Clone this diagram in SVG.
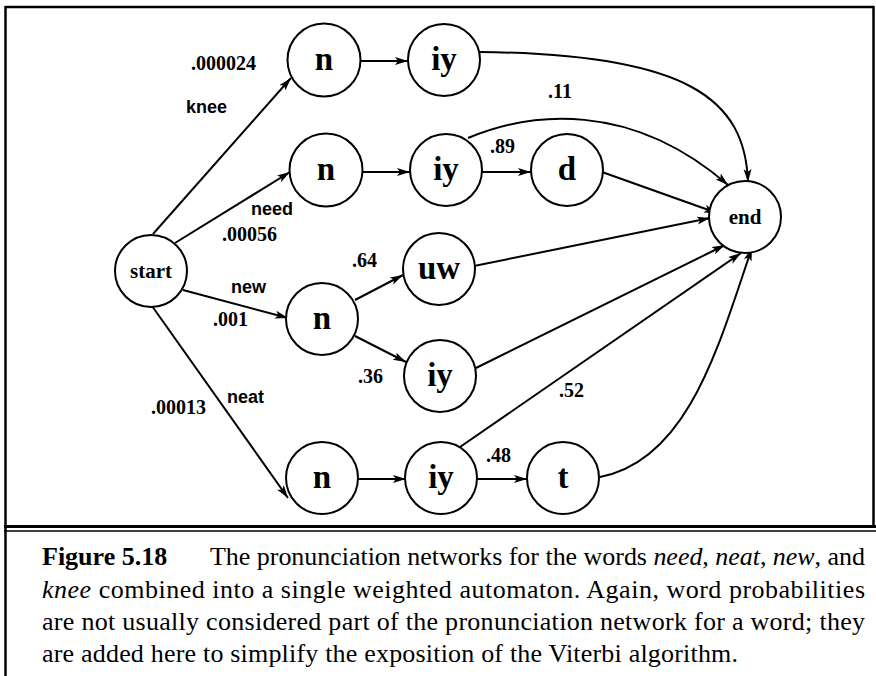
<svg xmlns="http://www.w3.org/2000/svg" width="876" height="676" viewBox="0 0 876 676">
<style>
.node circle{fill:#fff;stroke:#000;stroke-width:2}
.lbl{font-family:"Liberation Serif","Times New Roman",serif;font-weight:bold;fill:#000;text-anchor:middle}
.big{font-size:33px}
.sm{font-size:21px}
.num{font-family:"Liberation Serif","Times New Roman",serif;font-weight:bold;font-size:20px;fill:#000}
.word{font-family:"Liberation Sans",Arial,sans-serif;font-weight:bold;font-size:18px;fill:#000}
.edge{fill:none;stroke:#000;stroke-width:2;marker-end:url(#ah)}
.cap{font-family:"Liberation Serif","Times New Roman",serif;font-size:26px;fill:#000}
</style>
<defs>
<marker id="ah" markerUnits="userSpaceOnUse" markerWidth="14" markerHeight="10" refX="13" refY="4" orient="auto">
<path d="M0,0 L13,4 L0,8 L3,4 z" fill="#000"/>
</marker>
</defs>
<rect width="876" height="676" fill="#fff"/>
<g id="frame" stroke="#000" fill="none">
<line x1="5.5" y1="7" x2="874" y2="7" stroke-width="2.5"/>
<line x1="5.5" y1="6" x2="5.5" y2="676" stroke-width="2.5"/>
<line x1="873.5" y1="6" x2="873.5" y2="527" stroke-width="2.5"/>
<line x1="4" y1="526.5" x2="876" y2="526.5" stroke-width="3"/>
<line x1="4" y1="531" x2="876" y2="531" stroke-width="1.6"/>
</g>
<g id="connectors">
<line class="edge" x1="153" y1="234" x2="291" y2="78"/>
<line class="edge" x1="175" y1="243" x2="290" y2="172"/>
<line class="edge" x1="183" y1="290" x2="288" y2="318"/>
<line class="edge" x1="152" y1="306" x2="288" y2="498"/>
<line class="edge" x1="360" y1="61" x2="408" y2="61"/>
<line class="edge" x1="362" y1="172" x2="410" y2="172"/>
<line class="edge" x1="482" y1="172" x2="531" y2="172"/>
<line class="edge" x1="355" y1="300" x2="403" y2="275"/>
<line class="edge" x1="355" y1="336" x2="406" y2="362"/>
<line class="edge" x1="358" y1="479" x2="406" y2="479"/>
<line class="edge" x1="477" y1="479" x2="527" y2="479"/>
<path class="edge" d="M480,52 C690,54 745,100 748,182"/>
<path class="edge" d="M468,138 C530,112 630,100 728,185"/>
<line class="edge" x1="602" y1="172" x2="717" y2="213"/>
<line class="edge" x1="474" y1="266" x2="710" y2="218"/>
<line class="edge" x1="476" y1="368" x2="725" y2="245"/>
<line class="edge" x1="460" y1="447" x2="741" y2="253"/>
<path class="edge" d="M600,477 C690,460 720,340 752,248"/>
</g>
<g id="start" class="node"><circle cx="151" cy="271" r="36"/><text class="lbl sm" x="151" y="278">start</text></g>
<g id="n1" class="node"><circle cx="324" cy="60" r="36.5"/><text class="lbl big" x="324" y="70">n</text></g>
<g id="iy1" class="node"><circle cx="444" cy="60" r="36"/><text class="lbl big" x="444" y="70">iy</text></g>
<g id="n2" class="node"><circle cx="326" cy="170" r="36.5"/><text class="lbl big" x="326" y="180">n</text></g>
<g id="iy2" class="node"><circle cx="446" cy="170" r="36"/><text class="lbl big" x="446" y="180">iy</text></g>
<g id="d" class="node"><circle cx="567" cy="170" r="36"/><text class="lbl big" x="567" y="180">d</text></g>
<g id="end" class="node"><circle cx="745" cy="217" r="36"/><text class="lbl sm" x="745" y="224">end</text></g>
<g id="n3" class="node"><circle cx="322" cy="319" r="36"/><text class="lbl big" x="322" y="329">n</text></g>
<g id="uw" class="node"><circle cx="439" cy="269" r="36"/><text class="lbl big" x="439" y="279">uw</text></g>
<g id="iy3" class="node"><circle cx="440" cy="376" r="36"/><text class="lbl big" x="440" y="386">iy</text></g>
<g id="n4" class="node"><circle cx="322" cy="478" r="36"/><text class="lbl big" x="322" y="488">n</text></g>
<g id="iy4" class="node"><circle cx="441" cy="478" r="36"/><text class="lbl big" x="441" y="488">iy</text></g>
<g id="t" class="node"><circle cx="563" cy="478" r="36"/><text class="lbl big" x="563" y="488">t</text></g>
<g id="edge-labels">
<text class="num" x="191" y="70">.000024</text>
<text class="word" x="186" y="113">knee</text>
<text class="word" x="251" y="215">need</text>
<text class="num" x="222" y="241">.00056</text>
<text class="word" x="231" y="293">new</text>
<text class="num" x="213" y="326">.001</text>
<text class="num" x="352" y="267">.64</text>
<text class="num" x="358" y="383">.36</text>
<text class="word" x="227" y="403">neat</text>
<text class="num" x="151" y="414">.00013</text>
<text class="num" x="548" y="98">.11</text>
<text class="num" x="490" y="153">.89</text>
<text class="num" x="559" y="397">.52</text>
<text class="num" x="486" y="462">.48</text>
</g>
<g id="caption">
<text class="cap" x="42" y="565" font-weight="bold">Figure 5.18</text>
<text class="cap" x="210" y="565" textLength="655" lengthAdjust="spacing">The pronunciation networks for the words <tspan font-style="italic">need</tspan>, <tspan font-style="italic">neat</tspan>, <tspan font-style="italic">new</tspan>, and</text>
<text class="cap" x="42" y="598" textLength="823" lengthAdjust="spacing"><tspan font-style="italic">knee</tspan> combined into a single weighted automaton.  Again, word probabilities</text>
<text class="cap" x="42" y="630" textLength="823" lengthAdjust="spacing">are not usually considered part of the pronunciation network for a word; they</text>
<text class="cap" x="42" y="662" textLength="696" lengthAdjust="spacing">are added here to simplify the exposition of the Viterbi algorithm.</text>
</g>
</svg>
